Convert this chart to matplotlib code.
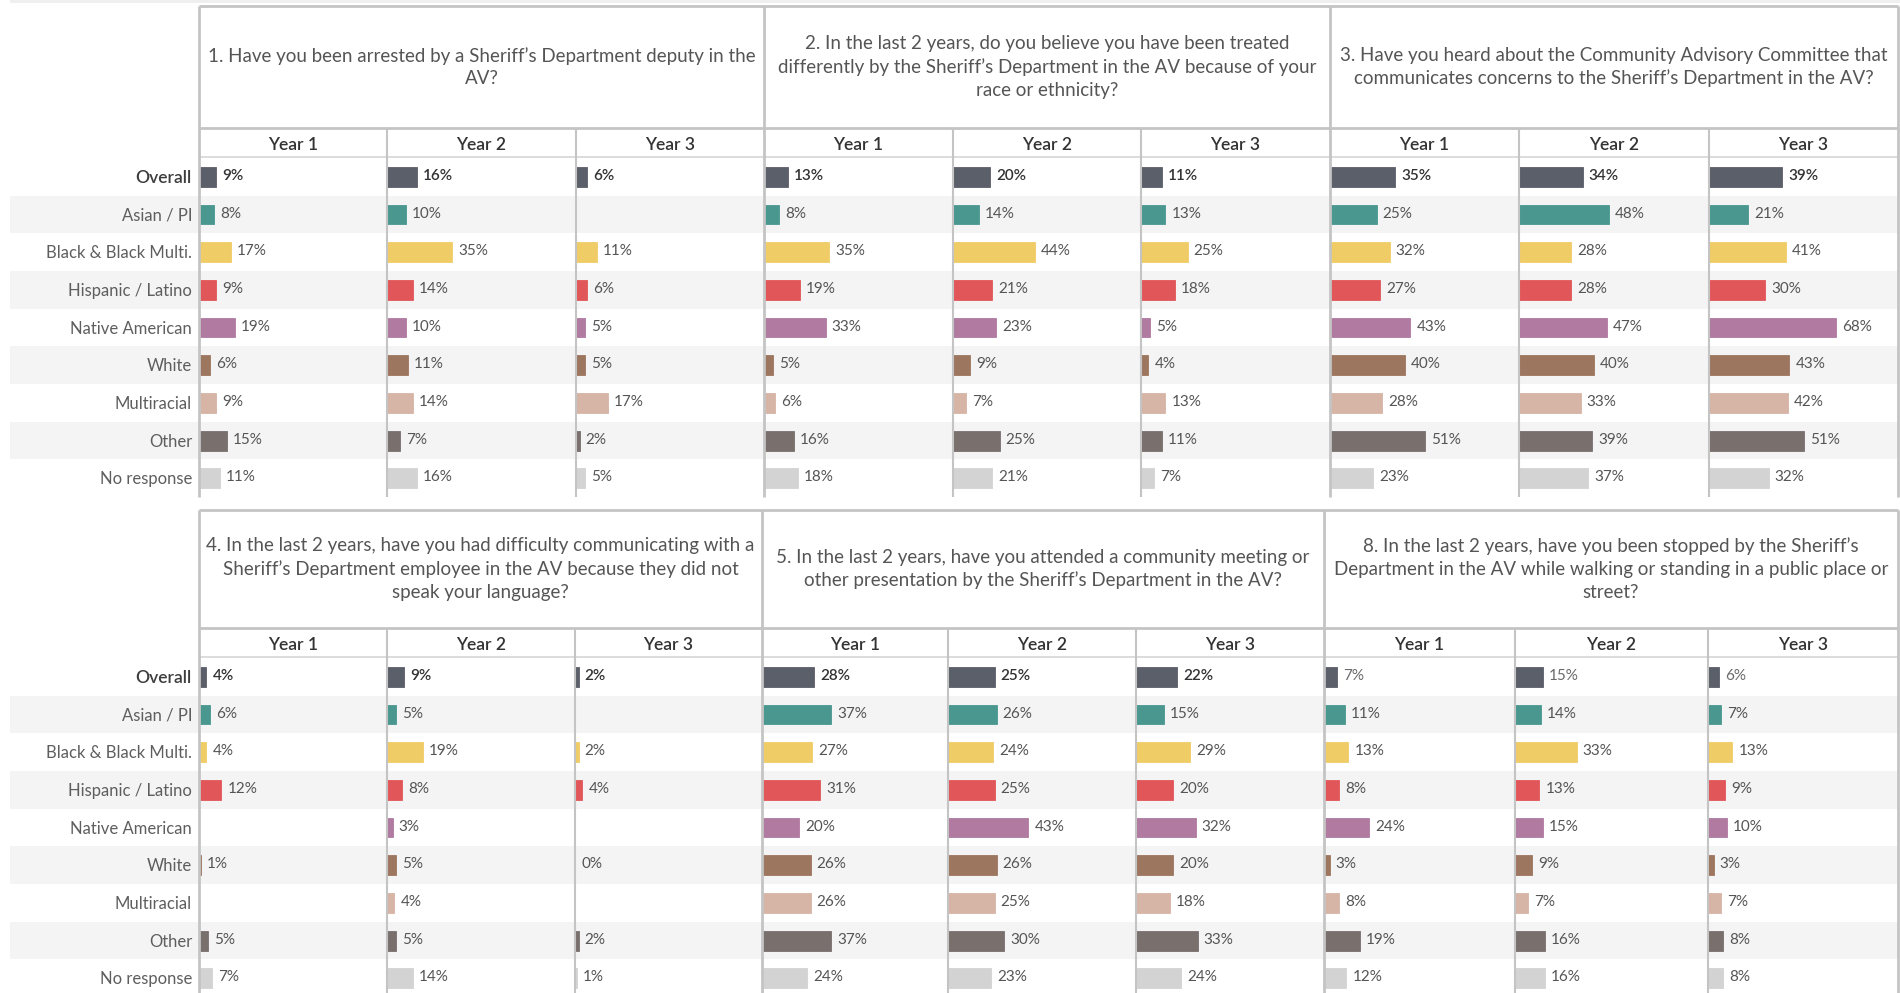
import numpy as np
import matplotlib
matplotlib.use("Agg")
import matplotlib.pyplot as plt
from matplotlib.lines import Line2D
from matplotlib.patches import Rectangle

plt.rcParams['font.family'] = ['Lato', 'DejaVu Sans']

# ---------------------------------------------------------------- data
groups = ["Overall", "Asian / PI", "Black & Black Multi.", "Hispanic / Latino",
          "Native American", "White", "Multiracial", "Other", "No response"]
years = ["Year 1", "Year 2", "Year 3"]

group_colors = ["#5b5f69", "#4a9790", "#efcc66", "#e15759", "#b07aa1",
                "#9d7660", "#d7b5a6", "#79706e", "#d3d3d3"]

questions = [
    "1. Have you been arrested by a Sheriff\u2019s Department deputy in the\nAV?",
    "2. In the last 2 years, do you believe you have been treated\ndifferently by the Sheriff\u2019s Department in the AV because of your\nrace or ethnicity?",
    "3. Have you heard about the Community Advisory Committee that\ncommunicates concerns to the Sheriff\u2019s Department in the AV?",
    "4. In the last 2 years, have you had difficulty communicating with a\nSheriff\u2019s Department employee in the AV because they did not\nspeak your language?",
    "5. In the last 2 years, have you attended a community meeting or\nother presentation by the Sheriff\u2019s Department in the AV?",
    "8. In the last 2 years, have you been stopped by the Sheriff\u2019s\nDepartment in the AV while walking or standing in a public place or\nstreet?",
]

nan = np.nan
# percent "yes" per group, one list per year
q1_year1 = [9, 8, 17, 9, 19, 6, 9, 15, 11]
q1_year2 = [16, 10, 35, 14, 10, 11, 14, 7, 16]
q1_year3 = [6, nan, 11, 6, 5, 5, 17, 2, 5]

q2_year1 = [13, 8, 35, 19, 33, 5, 6, 16, 18]
q2_year2 = [20, 14, 44, 21, 23, 9, 7, 25, 21]
q2_year3 = [11, 13, 25, 18, 5, 4, 13, 11, 7]

q3_year1 = [35, 25, 32, 27, 43, 40, 28, 51, 23]
q3_year2 = [34, 48, 28, 28, 47, 40, 33, 39, 37]
q3_year3 = [39, 21, 41, 30, 68, 43, 42, 51, 32]

q4_year1 = [4, 6, 4, 12, nan, 1, nan, 5, 7]
q4_year2 = [9, 5, 19, 8, 3, 5, 4, 5, 14]
q4_year3 = [2, nan, 2, 4, nan, 0, nan, 2, 1]

q5_year1 = [28, 37, 27, 31, 20, 26, 26, 37, 24]
q5_year2 = [25, 26, 24, 25, 43, 26, 25, 30, 23]
q5_year3 = [22, 15, 29, 20, 32, 20, 18, 33, 24]

q8_year1 = [7, 11, 13, 8, 24, 3, 8, 19, 12]
q8_year2 = [15, 14, 33, 13, 15, 9, 7, 16, 16]
q8_year3 = [6, 7, 13, 9, 10, 3, 7, 8, 8]

panel_values = [
    [q1_year1, q1_year2, q1_year3],
    [q2_year1, q2_year2, q2_year3],
    [q3_year1, q3_year2, q3_year3],
    [q4_year1, q4_year2, q4_year3],
    [q5_year1, q5_year2, q5_year3],
    [q8_year1, q8_year2, q8_year3],
]

# ---------------------------------------------------------------- layout (pixels)
W, H = 1900, 993
fig = plt.figure(figsize=(W / 100, H / 100), dpi=100)
fig.patch.set_facecolor("white")

def fx(px):
    return px / W

def fy(py):
    return 1 - py / H

PX_PER_100 = 187.0          # horizontal scale of the bars
ROW_H = 37.67
BAR_H = 0.53

LINE_DARK = "#c4c4c4"
LINE_LIGHT = "#d9d9d9"
BAND = "#f4f4f4"

blocks = [
    dict(top=6, head_bot=128, year_bot=157,
         cols=[199, 387, 576, 764, 953, 1141, 1330, 1519, 1709, 1898]),
    dict(top=510, head_bot=628, year_bot=657,
         cols=[199, 387, 575, 762, 948, 1136, 1324, 1515, 1708, 1898]),
]

def hline(x0, x1, y, color, lw):
    fig.add_artist(Line2D([fx(x0), fx(x1)], [fy(y), fy(y)], color=color, lw=lw,
                          transform=fig.transFigure, solid_capstyle="butt"))

def vline(x, y0, y1, color, lw):
    fig.add_artist(Line2D([fx(x), fx(x)], [fy(y0), fy(y1)], color=color, lw=lw,
                          transform=fig.transFigure, solid_capstyle="butt"))

# thin strip along the top edge
fig.add_artist(Rectangle((fx(10), fy(3)), fx(1890), 3 / H, transform=fig.transFigure,
                         facecolor="#efefef", edgecolor="none"))

for b_idx, blk in enumerate(blocks):
    rows_top = blk["year_bot"] + 1
    rows_bot = rows_top + ROW_H * len(groups)
    cols = blk["cols"]

    # background axis holding the row bands and the group labels (pixel units)
    bg = fig.add_axes([fx(10), fy(rows_bot), fx(1890), (rows_bot - rows_top) / H])
    bg.set_xlim(10, 1900)
    bg.set_ylim(len(groups) - 0.5, -0.5)
    bg.axis("off")
    for i, g in enumerate(groups):
        if i % 2 == 1:
            bg.axhspan(i - 0.5, i + 0.5, color=BAND, lw=0, zorder=0)
        if i == 0:
            bg.text(192, i + 0.03, g, ha="right", va="center", fontsize=12.6,
                    color="#3d3d3d", fontweight="semibold")
        else:
            bg.text(192, i + 0.03, g, ha="right", va="center", fontsize=12,
                    color="#5e5e5e")

    for p in range(3):
        panel = b_idx * 3 + p
        x_left, x_right = cols[p * 3], cols[p * 3 + 3]

        # question header
        fig.text(fx((x_left + x_right) / 2), fy((blk["top"] + blk["head_bot"]) / 2),
                 questions[panel], ha="center", va="center", multialignment="center",
                 fontsize=13.5, color="#555555", linespacing=1.4)

        for c in range(3):
            x0, x1 = cols[p * 3 + c], cols[p * 3 + c + 1]
            fig.text(fx((x0 + x1) / 2), fy((blk["head_bot"] + blk["year_bot"]) / 2 + 3),
                     years[c], ha="center", va="center", fontsize=12.6,
                     color="#333333", fontweight="semibold")

            ax = fig.add_axes([fx(x0), fy(rows_bot), (x1 - x0) / W,
                               (rows_bot - rows_top) / H])
            ax.set_facecolor("none")
            ax.set_xlim(0, 100 * (x1 - x0) / PX_PER_100)
            ax.set_ylim(len(groups) - 0.5, -0.5)
            ax.axis("off")

            vals = panel_values[panel][c]
            for i, v in enumerate(vals):
                if np.isnan(v):
                    continue
                ax.barh(i, v, height=BAR_H, color=group_colors[i],
                        edgecolor=group_colors[i], linewidth=0.6)
                if i == 0 and panel != 5:
                    kw = dict(color="#333333", fontweight="semibold")
                elif i == 0:
                    kw = dict(color="#6a6a6a")
                else:
                    kw = dict(color="#555555")
                ax.annotate(f"{int(v)}%", xy=(v, i), xytext=(6, 1),
                            textcoords="offset pixels", ha="left", va="center",
                            fontsize=11, **kw)

    # grid lines
    hline(cols[0], cols[-1], blk["top"], LINE_DARK, 2)
    hline(cols[0], cols[-1], blk["head_bot"], LINE_DARK, 2)
    hline(cols[0], cols[-1], blk["year_bot"], LINE_LIGHT, 1.3)
    for k, x in enumerate(cols):
        if k % 3 == 0:
            vline(x, blk["top"], rows_bot, LINE_DARK, 2)
        else:
            vline(x, blk["head_bot"], rows_bot, LINE_DARK, 1.5)

fig.savefig("out.png", dpi=100, facecolor="white")
